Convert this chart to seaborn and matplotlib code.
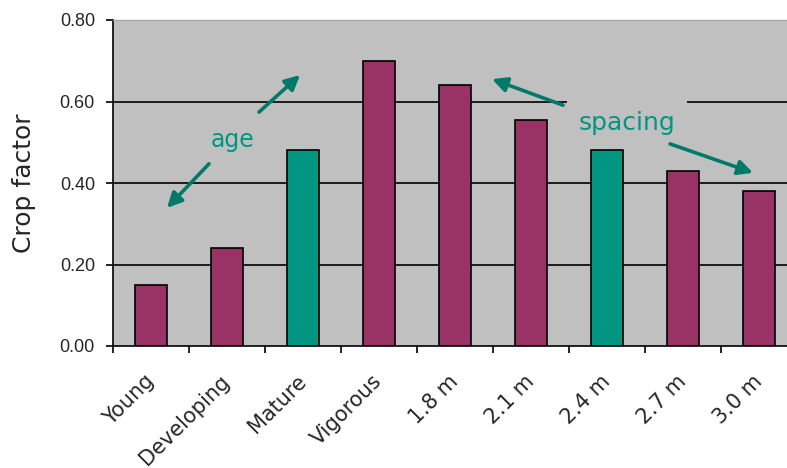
import matplotlib
matplotlib.use("Agg")
import matplotlib.pyplot as plt
import matplotlib.transforms as mtransforms
import numpy as np
import pandas as pd
import seaborn as sns

# Crop factor by tree age class and by row spacing
categories = ["Young", "Developing", "Mature", "Vigorous",
              "1.8 m", "2.1 m", "2.4 m", "2.7 m", "3.0 m"]
crop_factor = [0.15, 0.24, 0.48, 0.70, 0.64, 0.555, 0.48, 0.43, 0.38]
reference_case = [False, False, True, False, False, False, True, False, False]
y_ticks = [0.0, 0.2, 0.4, 0.6, 0.8]

MAROON = "#993366"
TEAL = "#009682"
ARROW = "#007A68"
PANEL = "#C0C0C0"

df = pd.DataFrame({
    "category": categories,
    "crop": crop_factor,
    "group": ["reference" if r else "other" for r in reference_case],
})

sns.set_style("ticks")
plt.rcParams["font.family"] = ["Liberation Sans", "DejaVu Sans"]

fig = plt.figure(figsize=(7.87, 4.68), dpi=100)
# plot area runs a little past the right edge of the canvas
ax = fig.add_axes([113 / 787, 122 / 468, 684 / 787, 326 / 468])
ax.set_facecolor(PANEL)

sns.barplot(data=df, x="category", y="crop", hue="group", order=categories,
            hue_order=["other", "reference"],
            palette={"other": MAROON, "reference": TEAL}, saturation=1,
            dodge=False, width=0.41, edgecolor="black", linewidth=1.2,
            legend=False, ax=ax, zorder=3)

ax.set_xlim(-0.5, len(categories) - 0.5)
ax.set_ylim(0, 0.8)

# horizontal gridlines (not at the frame edges)
for v in y_ticks[1:-1]:
    ax.axhline(v, color="black", linewidth=1.2, zorder=1)

ax.set_yticks(y_ticks)
ax.set_yticklabels([f"{v:.2f}" for v in y_ticks], fontsize=13)
ax.tick_params(axis="y", length=5, width=1.2, pad=8, color="black")

ax.set_xticks(range(len(categories)))
ax.set_xticklabels(categories, fontsize=15, family="DejaVu Sans",
                   rotation=45, ha="right", va="center", rotation_mode="anchor")
shift = mtransforms.ScaledTranslation(-9 / 100, 0, fig.dpi_scale_trans)
for lbl in ax.get_xticklabels():
    lbl.set_transform(lbl.get_transform() + shift)
ax.set_xticks(np.arange(-0.5, len(categories), 1.0), minor=True)
ax.tick_params(axis="x", which="major", length=0, pad=23)
ax.tick_params(axis="x", which="minor", length=5, width=1.2, color="black")

ax.set_xlabel("")
ax.set_ylabel("Crop factor", fontsize=18, family="DejaVu Sans", labelpad=17)

for side in ("left", "bottom"):
    ax.spines[side].set_color("black")
    ax.spines[side].set_linewidth(1.2)
ax.spines["top"].set_visible(True)
ax.spines["top"].set_color("#A8A8A8")
ax.spines["top"].set_linewidth(1.0)
ax.spines["right"].set_visible(False)

arrow_props = dict(arrowstyle="-|>", color=ARROW, lw=2.6, mutation_scale=22,
                   shrinkA=0, shrinkB=0)

# age annotation
ax.text(1.066, 0.506, "age", color=TEAL, fontsize=17, family="DejaVu Sans",
        ha="center", va="center", zorder=2)
ax.annotate("", xy=(1.961, 0.665), xytext=(1.421, 0.574),
            arrowprops=arrow_props, zorder=4)
ax.annotate("", xy=(0.211, 0.339), xytext=(0.763, 0.447),
            arrowprops=arrow_props, zorder=4)

# spacing annotation, on a panel-coloured patch over the gridline
ax.text(6.263, 0.547, "spacing", color=TEAL, fontsize=18, family="DejaVu Sans",
        ha="center", va="center", zorder=2,
        bbox=dict(boxstyle="square,pad=0.45", facecolor=PANEL, edgecolor="none"))
ax.annotate("", xy=(4.487, 0.655), xytext=(5.421, 0.591),
            arrowprops=arrow_props, zorder=4)
ax.annotate("", xy=(7.921, 0.425), xytext=(6.829, 0.496),
            arrowprops=arrow_props, zorder=4)

fig.savefig("out.png", dpi=100, facecolor="white")
